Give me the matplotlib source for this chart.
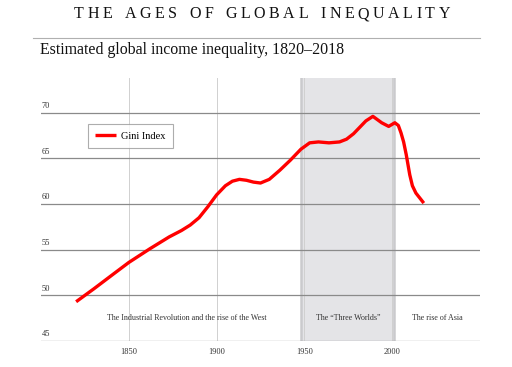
import matplotlib.pyplot as plt

# data
years = [1820, 1830, 1841, 1850, 1862, 1873, 1880, 1885, 1890, 1895, 1900, 1905,
         1909, 1913, 1917, 1921, 1925, 1930, 1936, 1942, 1948, 1953, 1958, 1964,
         1970, 1974, 1978, 1981, 1985, 1989, 1994, 1998, 2001.5, 2003.5, 2005,
         2006.5, 2008, 2010, 2011.5, 2013.5, 2018]
gini = [49.3, 50.7, 52.3, 53.6, 55.1, 56.4, 57.1, 57.7, 58.5, 59.7, 61.0, 62.0,
        62.5, 62.7, 62.6, 62.4, 62.3, 62.7, 63.7, 64.8, 66.0, 66.7, 66.8, 66.7,
        66.8, 67.1, 67.7, 68.3, 69.1, 69.6, 68.9, 68.5, 68.9, 68.6, 67.8,
        66.8, 65.4, 63.2, 62.0, 61.2, 60.1]

y_ticks = [45, 50, 55, 60, 65, 70]
x_ticks = [1850, 1900, 1950, 2000]
span = (1948, 2001)
eras = ['The Industrial Revolution and the rise of the West',
        'The \u201cThree Worlds\u201d', 'The rise of Asia']
era_x = [1883, 1975, 2025.5]
title = 'THE AGES OF GLOBAL INEQUALITY'

plt.rcParams['font.family'] = ['Liberation Serif', 'DejaVu Serif']

fig = plt.figure(figsize=(5.12, 3.67), dpi=100)
r = fig.canvas.get_renderer()

# title with wide letter spacing: place characters one by one
fs = 11.5
track = 3.6  # px between letters
widths = []
for ch in title:
    if ch == ' ':
        widths.append(5.0)
        continue
    t = fig.text(0, 0, ch, fontsize=fs)
    widths.append(t.get_window_extent(r).width)
    t.remove()
total = sum(widths) + track * (len(title) - 1)
x0 = 262 - total / 2
for ch, w in zip(title, widths):
    if ch != ' ':
        fig.text(x0 / 512, 1 - 14.5 / 367, ch, fontsize=fs, color='#111111',
                 ha='left', va='center')
    x0 += w + track

fig.add_artist(plt.Line2D([33 / 512, 480 / 512], [1 - 38 / 367] * 2,
                          color='#b0b0b0', lw=0.8))
fig.text(40 / 512, 1 - 50 / 367, 'Estimated global income inequality, 1820\u20132018',
         ha='left', va='center', fontsize=11.4, color='#111111')

ax = fig.add_axes([41 / 512, 26 / 367, 439 / 512, 263 / 367])
ax.set_xlim(1800, 2050)
ax.set_ylim(45, 73.8)

ax.axvspan(span[0], span[1], color='#e4e4e7', zorder=0, lw=0)
for x in x_ticks:
    ax.axvline(x, color='#d0d0d0', lw=0.7, zorder=1)
for x in span:
    ax.axvline(x, color='#cacacd', lw=1.8, zorder=1)
for y in y_ticks:
    ax.axhline(y, color='#8a8a8a', lw=0.9, zorder=2)
    ax.text(1800.5, y + 0.3, str(y), fontsize=6, color='#333333',
            ha='left', va='bottom')

ax.plot(years, gini, color='#ff0000', lw=2.4, label='Gini Index', zorder=3,
        solid_capstyle='butt', solid_joinstyle='round')

for t, x in zip(eras, era_x):
    ax.text(x, 47.5, t, fontsize=5.8, color='#333333', ha='center', va='center')

ax.set_xticks(x_ticks)
ax.set_xticklabels([str(x) for x in x_ticks], fontsize=6, color='#333333')
ax.tick_params(axis='x', length=0, pad=5)
ax.set_yticks([])
for s in ax.spines.values():
    s.set_visible(False)

leg = ax.legend(loc='upper left', bbox_to_anchor=(47 / 439, 1 - 46 / 263),
                fontsize=7.5, frameon=True, fancybox=False, handlelength=2.0,
                borderpad=0.7, handletextpad=0.5, borderaxespad=0)
leg.get_frame().set_edgecolor('#999999')
leg.get_frame().set_linewidth(0.8)

fig.savefig('out.png', dpi=100)
